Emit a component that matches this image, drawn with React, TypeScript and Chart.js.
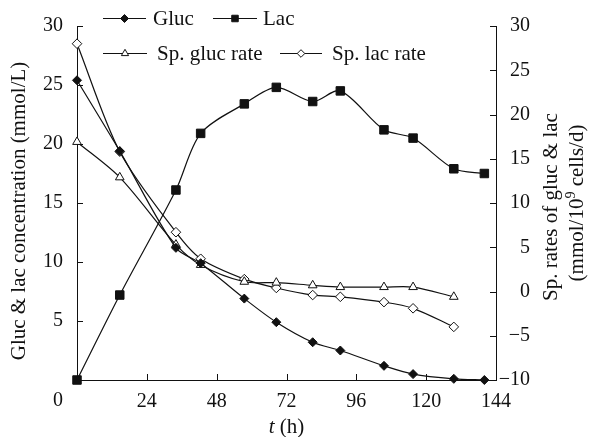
import React, { useEffect, useRef } from "react";
import { Chart, registerables } from "chart.js";

Chart.register(...registerables);

// ---- data ----
const timeHours = [0, 14.7, 34, 42.5, 57.5, 68.5, 81, 90.5, 105.5, 115.5, 129.5, 140];
const rateTimeHours = [0, 14.7, 34, 42.5, 57.5, 68.5, 81, 90.5, 105.5, 115.5, 129.5];
const glucConc = [25.4, 19.4, 11.2, 9.9, 6.9, 4.9, 3.2, 2.5, 1.2, 0.5, 0.1, 0];
const lacConc = [0, 7.2, 16.1, 20.9, 23.4, 24.8, 23.6, 24.5, 21.2, 20.5, 17.9, 17.5];
const spGlucRate = [16.9, 12.9, 5.3, 3.0, 1.1, 1.0, 0.7, 0.5, 0.5, 0.5, -0.6];
const spLacRate = [28.0, 15.8, 6.7, 3.7, 1.4, 0.4, -0.4, -0.6, -1.2, -1.9, -4.0];
const xTickValues = [0, 24, 48, 72, 96, 120, 144];
const leftTickValues = [5, 10, 15, 20, 25, 30];
const rightTickValues = [-10, -5, 0, 5, 10, 15, 20, 25, 30];
const seriesLabels = ["Gluc", "Lac", "Sp. gluc rate", "Sp. lac rate"];
const xTitleParts = ["t", " (h)"];
const leftTitle = "Gluc & lac concentration (mmol/L)";
const rightTitleLine1 = "Sp. rates of gluc & lac";
const rightTitleLine2 = ["(mmol/10", "9", " cells/d)"];

const FONT = '"Liberation Serif", "Times New Roman", serif';
const INK = "#111";

function drawMarker(ctx: CanvasRenderingContext2D, style: string, cx: number, cy: number, r: number, filled: boolean) {
  ctx.beginPath();
  if (style === "rect") {
    const s = r * Math.SQRT1_2;
    ctx.rect(cx - s, cy - s, 2 * s, 2 * s);
  } else if (style === "triangle") {
    for (let i = 0; i < 3; i++) {
      const a = (i * 2 * Math.PI) / 3;
      const px = cx + Math.sin(a) * r;
      const py = cy - Math.cos(a) * r;
      if (i === 0) ctx.moveTo(px, py);
      else ctx.lineTo(px, py);
    }
    ctx.closePath();
  } else {
    ctx.moveTo(cx - r, cy);
    ctx.lineTo(cx, cy - r);
    ctx.lineTo(cx + r, cy);
    ctx.lineTo(cx, cy + r);
    ctx.closePath();
  }
  ctx.fillStyle = filled ? INK : "#fff";
  ctx.fill();
  ctx.strokeStyle = INK;
  ctx.lineWidth = 1;
  ctx.stroke();
}

const decorPlugin = {
  id: "decor",
  afterDraw(chart: any) {
    const { ctx, chartArea: ca, scales } = chart;
    const xs = scales.x;
    const ys = scales.y;
    const y2 = scales.y2;
    ctx.save();
    ctx.strokeStyle = INK;
    ctx.lineWidth = 1;
    // inward tick marks
    ctx.beginPath();
    xTickValues.forEach((v) => {
      if (v === xTickValues[0]) return;
      const px = Math.round(xs.getPixelForValue(v)) + 0.5;
      ctx.moveTo(px, ca.bottom);
      ctx.lineTo(px, ca.bottom - 6);
    });
    leftTickValues.forEach((v) => {
      const py = Math.round(ys.getPixelForValue(v)) + 0.5;
      ctx.moveTo(ca.left, py);
      ctx.lineTo(ca.left + 6, py);
    });
    rightTickValues.forEach((v) => {
      const py = Math.round(y2.getPixelForValue(v)) + 0.5;
      ctx.moveTo(ca.right, py);
      ctx.lineTo(ca.right - 6, py);
    });
    ctx.stroke();

    ctx.fillStyle = INK;
    // origin "0" label
    ctx.font = `20px ${FONT}`;
    ctx.textAlign = "center";
    ctx.textBaseline = "middle";
    ctx.fillText(String(xTickValues[0]), ca.left - 19, 401);

    // x title
    ctx.font = `italic 21px ${FONT}`;
    const wT = ctx.measureText(xTitleParts[0]).width;
    ctx.font = `21px ${FONT}`;
    const wH = ctx.measureText(xTitleParts[1]).width;
    const xStart = (ca.left + ca.right) / 2 - (wT + wH) / 2;
    ctx.textAlign = "left";
    ctx.font = `italic 21px ${FONT}`;
    ctx.fillText(xTitleParts[0], xStart, 427);
    ctx.font = `21px ${FONT}`;
    ctx.fillText(xTitleParts[1], xStart + wT, 427);

    // left title
    ctx.save();
    ctx.translate(19, 211);
    ctx.rotate(-Math.PI / 2);
    ctx.textAlign = "center";
    ctx.font = `21px ${FONT}`;
    ctx.fillText(leftTitle, 0, 0);
    ctx.restore();

    // right title
    ctx.save();
    ctx.translate(551, 207);
    ctx.rotate(-Math.PI / 2);
    ctx.textAlign = "center";
    ctx.font = `21px ${FONT}`;
    ctx.fillText(rightTitleLine1, 0, 0);
    ctx.restore();

    ctx.save();
    ctx.translate(577, 203);
    ctx.rotate(-Math.PI / 2);
    ctx.textAlign = "left";
    ctx.font = `21px ${FONT}`;
    const a = ctx.measureText(rightTitleLine2[0]).width;
    const c = ctx.measureText(rightTitleLine2[2]).width;
    ctx.font = `14px ${FONT}`;
    const b = ctx.measureText(rightTitleLine2[1]).width;
    let sx = -(a + b + c) / 2;
    ctx.font = `21px ${FONT}`;
    ctx.fillText(rightTitleLine2[0], sx, 0);
    sx += a;
    ctx.font = `14px ${FONT}`;
    ctx.fillText(rightTitleLine2[1], sx, -6);
    sx += b;
    ctx.font = `21px ${FONT}`;
    ctx.fillText(rightTitleLine2[2], sx, 0);
    ctx.restore();

    // legend
    const entries = [
      { x0: 103, x1: 146, y: 18, tx: 153, style: "rectRot", r: 4, filled: true },
      { x0: 213, x1: 257, y: 18, tx: 263, style: "rect", r: 4.6, filled: true },
      { x0: 103, x1: 147, y: 53, tx: 157, style: "triangle", r: 4.2, filled: false },
      { x0: 280, x1: 322, y: 53, tx: 332, style: "rectRot", r: 3.8, filled: false },
    ];
    entries.forEach((e, i) => {
      ctx.beginPath();
      ctx.strokeStyle = INK;
      ctx.lineWidth = 1.2;
      ctx.moveTo(e.x0, e.y + 0.5);
      ctx.lineTo(e.x1, e.y + 0.5);
      ctx.stroke();
      drawMarker(ctx, e.style, (e.x0 + e.x1) / 2, e.y + 0.5, e.r, e.filled);
      ctx.fillStyle = INK;
      ctx.font = `21px ${FONT}`;
      ctx.textAlign = "left";
      ctx.textBaseline = "middle";
      ctx.fillText(seriesLabels[i], e.tx, e.y + 1);
    });
    ctx.restore();
  },
};

export default function App() {
  const canvasRef = useRef<HTMLCanvasElement | null>(null);

  useEffect(() => {
    document.body.style.margin = "0";
    const canvas = canvasRef.current;
    if (!canvas) return;

    const common = {
      borderColor: INK,
      borderWidth: 1.2,
      tension: 0.3,
      clip: false as any,
      pointBorderColor: INK,
      pointBorderWidth: 1,
      pointHoverRadius: 0,
    };

    const tickFont = { family: FONT, size: 20 };

    const chart = new Chart(canvas, {
      type: "line",
      data: {
        datasets: [
          {
            ...common,
            label: seriesLabels[0],
            data: timeHours.map((t, i) => ({ x: t, y: glucConc[i] })),
            yAxisID: "y",
            pointStyle: "rectRot",
            pointRadius: 4.5,
            pointBackgroundColor: INK,
          },
          {
            ...common,
            label: seriesLabels[1],
            data: timeHours.map((t, i) => ({ x: t, y: lacConc[i] })),
            yAxisID: "y",
            pointStyle: "rect",
            pointRadius: 6,
            pointBackgroundColor: INK,
          },
          {
            ...common,
            label: seriesLabels[2],
            data: rateTimeHours.map((t, i) => ({ x: t, y: spGlucRate[i] })),
            yAxisID: "y2",
            pointStyle: "triangle",
            pointRadius: 5,
            pointBackgroundColor: "#fff",
          },
          {
            ...common,
            label: seriesLabels[3],
            data: rateTimeHours.map((t, i) => ({ x: t, y: spLacRate[i] })),
            yAxisID: "y2",
            pointStyle: "rectRot",
            pointRadius: 4.8,
            pointBackgroundColor: "#fff",
          },
        ],
      },
      options: {
        responsive: false,
        animation: false,
        devicePixelRatio: 1,
        layout: { padding: { top: 26, right: 65, left: 0, bottom: 0 } },
        plugins: { legend: { display: false }, tooltip: { enabled: false } },
        events: [],
        scales: {
          x: {
            type: "linear",
            position: "bottom",
            min: 0,
            max: 144,
            afterBuildTicks: (s: any) => {
              s.ticks = xTickValues.filter((v) => v !== xTickValues[0]).map((v) => ({ value: v }));
            },
            afterFit: (s: any) => {
              s.height = 57;
            },
            grid: { display: true, drawOnChartArea: false, drawTicks: false },
            border: { display: true, color: INK, width: 1 },
            ticks: { padding: 10, font: tickFont, color: INK, autoSkip: false, maxRotation: 0 },
          },
          y: {
            type: "linear",
            position: "left",
            min: 0,
            max: 30,
            afterBuildTicks: (s: any) => {
              s.ticks = leftTickValues.map((v) => ({ value: v }));
            },
            afterFit: (s: any) => {
              s.width = 77;
            },
            grid: { display: true, drawOnChartArea: false, drawTicks: false },
            border: { display: true, color: INK, width: 1 },
            ticks: { padding: 14, font: tickFont, color: INK, autoSkip: false },
          },
          y2: {
            type: "linear",
            position: "right",
            min: -10,
            max: 30,
            afterBuildTicks: (s: any) => {
              s.ticks = rightTickValues.map((v) => ({ value: v }));
            },
            afterFit: (s: any) => {
              s.width = 34;
            },
            grid: { display: true, drawOnChartArea: false, drawTicks: false },
            border: { display: true, color: INK, width: 1 },
            ticks: {
              padding: 0,
              crossAlign: "far",
              font: tickFont,
              color: INK,
              autoSkip: false,
              callback: (v: any) => (Number(v) < 0 ? "\u2212" + Math.abs(Number(v)) : String(v)),
            },
          },
        },
      } as any,
      plugins: [decorPlugin],
    });

    return () => {
      chart.destroy();
    };
  }, []);

  return (
    <div style={{ width: 595, height: 437, background: "#fff" }}>
      <canvas ref={canvasRef} width={595} height={437} style={{ display: "block" }} />
    </div>
  );
}
